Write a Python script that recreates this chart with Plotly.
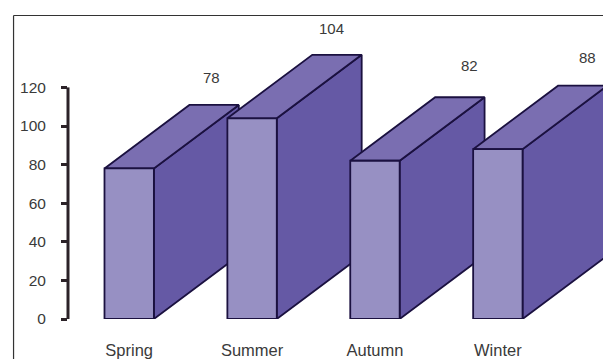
import plotly.graph_objects as go

# Seasonal totals shown as extruded columns
seasons = ["Spring", "Summer", "Autumn", "Winter"]
totals = [78, 104, 82, 88]
y_ticks = [0, 20, 40, 60, 80, 100, 120]
label_shift_px = [-3, -5, 10, 5]
label_lift_px = [27, 26, 32, 28]

# Extrusion geometry, in axis units
BAR_WIDTH = 0.402
DEPTH_X = 0.691
DEPTH_Y = 32.9

FRONT = "#9790c3"
SIDE = "#6559a5"
TOP = "#7a6eb1"
EDGE = "#1b1140"
TEXT = "#3a3a3a"
SPINE = "#2b2228"
FONT = "Liberation Sans, Arial, sans-serif"

W, H = 603, 359
LEFT, BOTTOM = 67.5, 40
X_PER_CAT = 123.0
FIRST_CENTER = 128.75
Y_PX_PER_UNIT = 1.93

fig = go.Figure()


def face(xs, ys, color):
    fig.add_trace(go.Scatter(
        x=xs + xs[:1], y=ys + ys[:1], mode="lines", fill="toself",
        fillcolor=color, line=dict(color=EDGE, width=1.8),
        cliponaxis=False, hoverinfo="skip", showlegend=False,
    ))


# Left to right, so each column hides part of the one before it
for i, v in enumerate(totals):
    x0, x1 = i - BAR_WIDTH / 2, i + BAR_WIDTH / 2
    face([x1, x1 + DEPTH_X, x1 + DEPTH_X, x1], [0, DEPTH_Y, v + DEPTH_Y, v], SIDE)
    face([x0, x1, x1 + DEPTH_X, x0 + DEPTH_X], [v, v, v + DEPTH_Y, v + DEPTH_Y], TOP)
    face([x0, x1, x1, x0], [0, 0, v, v], FRONT)

annotations = [
    dict(x=i + DEPTH_X, y=v + DEPTH_Y, text=str(v), showarrow=False,
         xshift=label_shift_px[i], yshift=label_lift_px[i],
         font=dict(family=FONT, size=15, color=TEXT))
    for i, v in enumerate(totals)
]

plot_w = W - LEFT
plot_h = H - BOTTOM
x_lo = (LEFT - FIRST_CENTER) / X_PER_CAT
x_hi = (W - FIRST_CENTER) / X_PER_CAT


def paper_x(px):
    return (px - LEFT) / plot_w


def paper_y(px):
    return (plot_h - px) / plot_h


fig.update_layout(
    width=W, height=H, margin=dict(l=LEFT, r=0, t=0, b=BOTTOM, autoexpand=False),
    paper_bgcolor="white", plot_bgcolor="white", showlegend=False,
    font=dict(family=FONT, size=15, color=TEXT),
    xaxis=dict(
        range=[x_lo, x_hi], tickmode="array", tickvals=list(range(len(seasons))),
        ticktext=seasons, showgrid=False, zeroline=False, showline=False,
        ticks="", ticklabelstandoff=19, tickfont=dict(family=FONT, size=16.5, color=TEXT),
    ),
    yaxis=dict(
        range=[0, plot_h / Y_PX_PER_UNIT], tickmode="array", tickvals=y_ticks, showgrid=False,
        zeroline=False, showline=False,
        ticks="outside", ticklen=6, tickwidth=2.5, tickcolor=SPINE,
        ticklabelstandoff=12, tickfont=dict(family=FONT, size=15.5, color=TEXT),
    ),
    annotations=annotations,
    shapes=[
        # Spine of the value axis, stopping at the top tick
        dict(type="line", xref="paper", yref="y", x0=0, x1=0, y0=y_ticks[0], y1=y_ticks[-1],
             line=dict(color=SPINE, width=3)),
        # Outer frame
        dict(type="line", xref="paper", yref="paper", x0=paper_x(13), x1=paper_x(13),
             y0=paper_y(15.5), y1=paper_y(H), line=dict(color="#333333", width=1.2), layer="below"),
        dict(type="line", xref="paper", yref="paper", x0=paper_x(13), x1=paper_x(W),
             y0=paper_y(15.5), y1=paper_y(15.5), line=dict(color="#333333", width=1.2), layer="below"),
    ],
)

fig.write_html("out.html", config=dict(displayModeBar=False))
